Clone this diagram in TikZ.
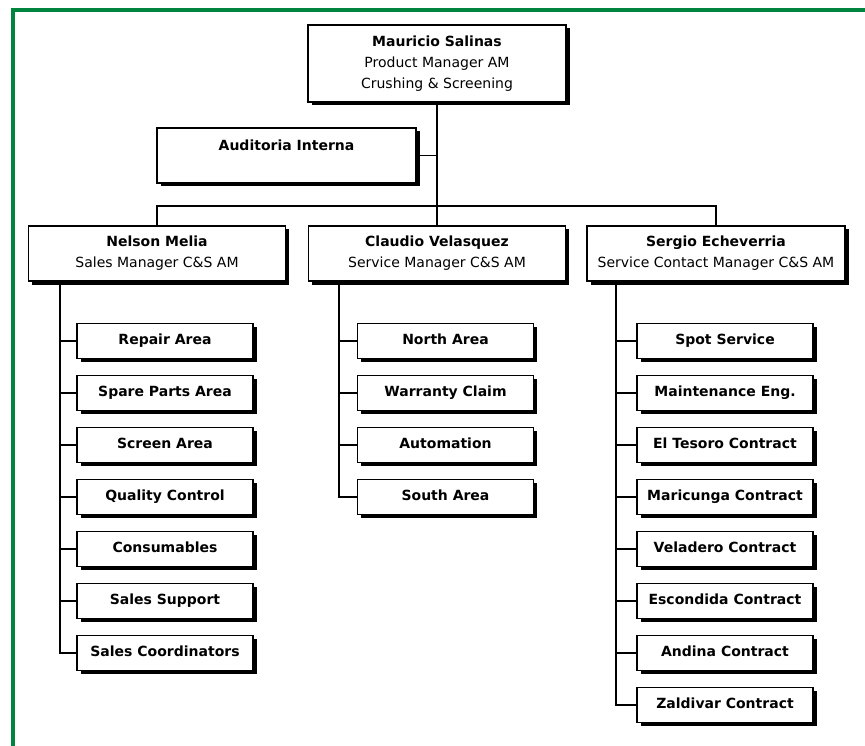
\documentclass[tikz,border=0pt]{standalone}
\usepackage{fontspec}
\setmainfont{DejaVu Sans}
\usetikzlibrary{shadows}

\definecolor{framegreen}{RGB}{0,133,63}

\tikzset{
  box/.style={draw, fill=white, line width=1.6pt, inner sep=0pt, align=center,
    font=\fontsize{14}{21}\selectfont,
    drop shadow={shadow xshift=3.5pt, shadow yshift=-3.5pt, fill=black, opacity=1}},
  head/.style={box, minimum width=257pt, minimum height=55pt},
  unit/.style={box, minimum width=176pt, minimum height=35pt,
    text height=10pt, text depth=3pt,
    font=\fontsize{14}{21}\selectfont\bfseries},
  link/.style={line width=1.6pt},
}

\begin{document}
\begin{tikzpicture}[x=1pt, y=-1pt]
	\useasboundingbox (0,0) rectangle (865,746);
	\clip (0,0) rectangle (865,746);
	\draw[framegreen, line width=4pt] (12.5,760) |- (880,10);

	% top of the chart
	\node[box, minimum width=258pt, minimum height=77pt] (m0) at (437,63.5)
		{\textbf{Mauricio Salinas}\\Product Manager AM\\Crushing \& Screening};
	\node[box, minimum width=259pt, minimum height=55pt] (a0) at (286.5,155.5)
		{\textbf{Auditoria Interna}\\~};
	\coordinate (bus) at (437,206);

	% managers
	\node[head] (l1) at (157,253.5) {\textbf{Nelson Melia}\\Sales Manager C\&S AM};
	\node[head] (l2) at (437,253.5) {\textbf{Claudio Velasquez}\\Service Manager C\&S AM};
	\node[head, minimum width=258pt] (l3) at (716,253.5) {\textbf{Sergio Echeverria}\\Service Contact Manager C\&S AM};
	\coordinate (l1s) at ([xshift=32pt]l1.south west);
	\coordinate (l2s) at ([xshift=31pt]l2.south west);
	\coordinate (l3s) at ([xshift=30pt]l3.south west);

	\draw[link] (a0.east) -| (m0.south);
	\draw[link] (m0.south) -- (bus);
	\draw[link] (l1.north) |- (bus) -| (l3.north);
	\draw[link] (l2.north) -- (bus);

	% areas under each manager
	\foreach \t [count=\i] in {Repair Area, Spare Parts Area, Screen Area, Quality Control,
			Consumables, Sales Support, Sales Coordinators} {
		\node[unit] (l1c\i) at (165,{341+52*(\i-1)}) {\t};
		\draw[link] (l1c\i.west) -| (l1s);
	}
	\foreach \t [count=\i] in {North Area, Warranty Claim, Automation, South Area} {
		\node[unit] (l2c\i) at (445.5,{341+52*(\i-1)}) {\t};
		\draw[link] (l2c\i.west) -| (l2s);
	}
	\foreach \t [count=\i] in {Spot Service, Maintenance Eng., El Tesoro Contract,
			Maricunga Contract, Veladero Contract, Escondida Contract, Andina Contract,
			Zaldivar Contract} {
		\node[unit] (l3c\i) at (725,{341+52*(\i-1)}) {\t};
		\draw[link] (l3c\i.west) -| (l3s);
	}
\end{tikzpicture}
\end{document}
